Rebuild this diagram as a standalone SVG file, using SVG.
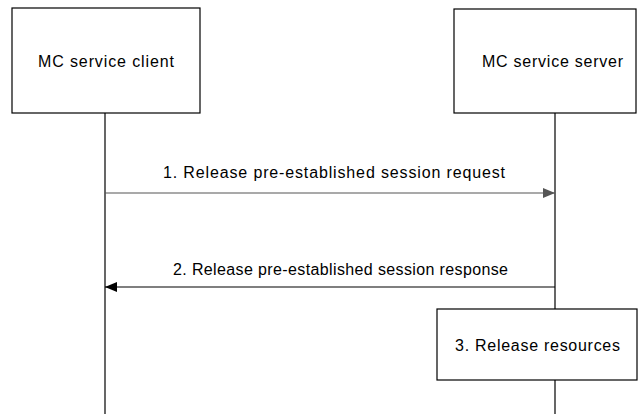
<svg xmlns="http://www.w3.org/2000/svg" width="638" height="414" viewBox="0 0 638 414">
<defs>
<style>
.box{fill:#fff;stroke:#000;stroke-width:1.2}
.life{stroke:#000;stroke-width:1.2;fill:none}
.t{font-family:"Liberation Sans",Arial,sans-serif;font-size:16px;fill:#000;text-anchor:start}
</style>
<marker id="ahg" markerWidth="12" markerHeight="10" refX="12" refY="5" orient="auto" markerUnits="userSpaceOnUse"><path d="M0,0 L12,5 L0,10 z" fill="#555"/></marker>
<marker id="ahb" markerWidth="12" markerHeight="10" refX="12" refY="5" orient="auto" markerUnits="userSpaceOnUse"><path d="M0,0 L12,5 L0,10 z" fill="#000"/></marker>
</defs>
<rect width="638" height="414" fill="#fff"/>
<g id="lifelines">
<line class="life" x1="105" y1="113" x2="105" y2="414"/>
<line class="life" x1="555" y1="113" x2="555" y2="414"/>
</g>
<g id="client">
<rect class="box" x="12" y="8" width="188" height="105"/>
<text class="t" x="38" y="67" textLength="136" lengthAdjust="spacing">MC service client</text>
</g>
<g id="server">
<rect class="box" x="454" y="9" width="182" height="104"/>
<text class="t" x="482" y="67" textLength="141" lengthAdjust="spacing">MC service server</text>
</g>
<g id="connectors">
<line x1="105" y1="193" x2="555" y2="193" stroke="#555" stroke-width="1.2" marker-end="url(#ahg)"/>
<text class="t" x="163" y="178" textLength="342" lengthAdjust="spacing">1. Release pre-established session request</text>
<line x1="555" y1="287" x2="105" y2="287" stroke="#000" stroke-width="1.2" marker-end="url(#ahb)"/>
<text class="t" x="173" y="275" textLength="335" lengthAdjust="spacing">2. Release pre-established session response</text>
</g>
<g id="release">
<rect class="box" x="437" y="309" width="200" height="71"/>
<text class="t" x="455" y="351" textLength="165" lengthAdjust="spacing">3. Release resources</text>
</g>
</svg>
